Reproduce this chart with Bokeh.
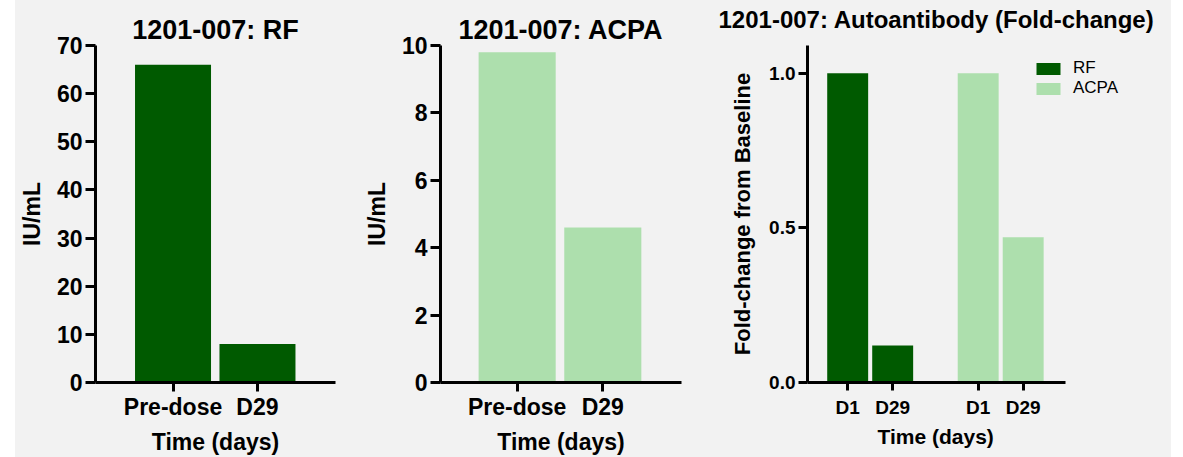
from bokeh.plotting import figure
from bokeh.layouts import row
from bokeh.models import (ColumnDataSource, FixedTicker, NumeralTickFormatter,
                          Range1d, Legend, LegendItem, Spacer, Title)
from bokeh.embed import file_html
from bokeh.resources import INLINE

# ---- data ----
time_labels = ["Pre-dose", "D29"]
rf_values = [66, 8]
acpa_values = [9.8, 4.6]
fold_labels = ["D1", "D29"]
rf_fold = [1.0, 0.12]
acpa_fold = [1.0, 0.47]

DARK = "#005a00"
LIGHT = "#addfad"
BG = "#f2f2f2"
FONT = "Liberation Sans"


def style(p, tick_size, label_size, yticks):
    p.background_fill_color = BG
    p.border_fill_color = BG
    p.outline_line_color = None
    p.grid.grid_line_color = None
    p.title.align = "center"
    p.title.text_font = FONT
    p.title.text_font_style = "bold"
    p.title.text_color = "black"
    for ax in (p.xaxis[0], p.yaxis[0]):
        ax.axis_line_width = 3
        ax.axis_line_color = "black"
        ax.major_tick_line_width = 3
        ax.major_tick_line_color = "black"
        ax.major_tick_in = 0
        ax.minor_tick_line_color = None
        ax.major_label_text_font = FONT
        ax.major_label_text_font_style = "bold"
        ax.major_label_text_color = "black"
        ax.major_label_text_font_size = tick_size
        ax.axis_label_text_font = FONT
        ax.axis_label_text_font_style = "bold"
        ax.axis_label_text_font_size = label_size
        ax.axis_label_text_color = "black"
    p.yaxis[0].ticker = FixedTicker(ticks=yticks)


def simple_panel(title, values, color, ymax, yticks, width, bl, br, xr):
    xs = [i + 1 for i in range(len(values))]
    src = ColumnDataSource(dict(x=xs, top=values))
    p = figure(width=width, height=457, output_backend="svg", toolbar_location=None,
               x_range=Range1d(*xr), y_range=Range1d(0, ymax),
               min_border_left=bl, min_border_right=br, min_border_top=45,
               min_border_bottom=75, title=title)
    p.vbar(x="x", top="top", bottom=0, width=0.9, source=src, fill_color=color,
           line_color=None)
    style(p, "23px", "23px", yticks)
    p.title.text_font_size = "27px"
    p.title.standoff = 2
    p.xaxis[0].ticker = FixedTicker(ticks=xs)
    p.xaxis[0].major_label_overrides = {x: lab for x, lab in zip(xs, time_labels)}
    p.xaxis[0].major_label_text_font_size = "23px"
    p.xaxis[0].major_tick_out = 9
    p.yaxis[0].major_tick_out = 10
    p.xaxis[0].major_label_standoff = 2
    p.yaxis[0].major_label_standoff = 3
    p.xaxis[0].axis_label = "Time (days)"
    p.yaxis[0].axis_label = "IU/mL"
    p.xaxis[0].axis_label_standoff = 6
    p.yaxis[0].axis_label_standoff = 9
    return p


p1 = simple_panel("1201-007: RF", rf_values, DARK, 70, list(range(0, 71, 10)),
                  345, 77, 25, (0.082, 2.924))
p2 = simple_panel("1201-007: ACPA", acpa_values, LIGHT, 10, list(range(0, 11, 2)),
                  340, 79, 19, (0.105, 2.919))

# ---- fold-change panel ----
group_gap = 2.9
rf_x = [1 + i for i in range(len(fold_labels))]
acpa_x = [1 + group_gap + i for i in range(len(fold_labels))]
p3 = figure(width=471, height=457, output_backend="svg", toolbar_location=None,
            x_range=Range1d(0.107, 8.196), y_range=Range1d(0, 1.09),
            min_border_left=107, min_border_right=0, min_border_top=45,
            min_border_bottom=75, title="1201-007: Autoantibody (Fold-change)")
r_rf = p3.vbar(x="x", top="top", bottom=0, width=0.91,
               source=ColumnDataSource(dict(x=rf_x, top=rf_fold)),
               fill_color=DARK, line_color=None)
r_acpa = p3.vbar(x="x", top="top", bottom=0, width=0.91,
                 source=ColumnDataSource(dict(x=acpa_x, top=acpa_fold)),
                 fill_color=LIGHT, line_color=None)
style(p3, "19px", "22px", [0, 0.5, 1.0])
p3.title.text_font_size = "24px"
p3.title.align = "left"
p3.title.offset = -89
# lift the title: keep it inside the 45px top border
p3.title.standoff = 12
if "padding" in p3.title.properties():
    try:
        p3.title.padding = dict(left=0, right=0, top=0, bottom=13)
        p3.title.standoff = 0
    except Exception:
        p3.title.standoff = 12
p3.yaxis[0].formatter = NumeralTickFormatter(format="0.0")
all_x = rf_x + acpa_x
p3.xaxis[0].ticker = FixedTicker(ticks=all_x)
p3.xaxis[0].bounds = (0.107, 5.84)
p3.xaxis[0].major_label_overrides = {x: lab for x, lab in zip(all_x, fold_labels + fold_labels)}
p3.xaxis[0].major_tick_out = 8
p3.yaxis[0].major_tick_out = 9
p3.xaxis[0].major_label_standoff = 6
p3.yaxis[0].major_label_standoff = 3
p3.yaxis[0].axis_label = "Fold-change from Baseline"
p3.yaxis[0].axis_label_standoff = 11
p3.add_layout(Title(text="Time (days)", align="left", offset=70,
                    text_font=FONT, text_font_style="bold", text_font_size="21px",
                    text_color="black", standoff=4), "below")

legend = Legend(items=[LegendItem(label="RF", renderers=[r_rf]),
                       LegendItem(label="ACPA", renderers=[r_acpa])],
                location=(226, 284), padding=0, margin=0, spacing=-4,
                glyph_width=30, glyph_height=15, label_height=15,
                label_standoff=10, border_line_color=None,
                background_fill_alpha=0,
                label_text_font=FONT, label_text_font_size="17px",
                label_text_color="black")
p3.add_layout(legend, "center")

layout = row(Spacer(width=15, height=457, styles={"background-color": "white"}),
             p1, p2, p3, styles={"background-color": BG})
open("out.html", "w").write(file_html(layout, INLINE))
